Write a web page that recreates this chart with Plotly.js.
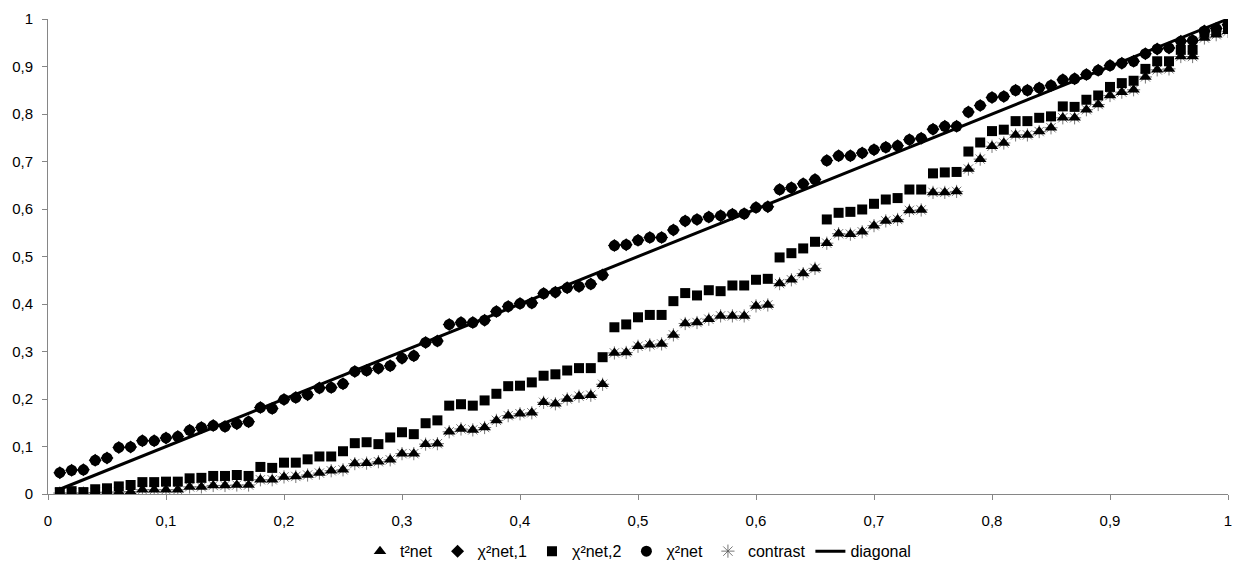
<!DOCTYPE html>
<html>
<head>
<meta charset="utf-8">
<script src="https://cdn.plot.ly/plotly-3.0.1.min.js"></script>
<style>
  html, body { margin: 0; padding: 0; background: #ffffff; }
  #chart { width: 1254px; height: 576px; }
</style>
</head>
<body>
<div id="chart"></div>
<script>
// x positions (quantiles)
const xVals = [0.01,0.02,0.03,0.04,0.05,0.06,0.07,0.08,0.09,0.10,
  0.11,0.12,0.13,0.14,0.15,0.16,0.17,0.18,0.19,0.20,
  0.21,0.22,0.23,0.24,0.25,0.26,0.27,0.28,0.29,0.30,
  0.31,0.32,0.33,0.34,0.35,0.36,0.37,0.38,0.39,0.40,
  0.41,0.42,0.43,0.44,0.45,0.46,0.47,0.48,0.49,0.50,
  0.51,0.52,0.53,0.54,0.55,0.56,0.57,0.58,0.59,0.60,
  0.61,0.62,0.63,0.64,0.65,0.66,0.67,0.68,0.69,0.70,
  0.71,0.72,0.73,0.74,0.75,0.76,0.77,0.78,0.79,0.80,
  0.81,0.82,0.83,0.84,0.85,0.86,0.87,0.88,0.89,0.90,
  0.91,0.92,0.93,0.94,0.95,0.96,0.97,0.98,0.99,1.00];

// t²net (triangles)
const t2net = [0.002,0.002,0.002,0.003,0.004,0.004,0.005,0.009,0.009,0.009,
  0.009,0.015,0.015,0.018,0.018,0.019,0.019,0.030,0.030,0.036,
  0.037,0.040,0.044,0.049,0.051,0.064,0.065,0.068,0.072,0.085,
  0.085,0.105,0.106,0.131,0.137,0.135,0.140,0.155,0.165,0.169,
  0.171,0.193,0.190,0.200,0.206,0.208,0.231,0.297,0.298,0.311,
  0.314,0.316,0.335,0.359,0.361,0.368,0.375,0.375,0.375,0.396,
  0.398,0.443,0.451,0.464,0.475,0.528,0.548,0.547,0.552,0.565,
  0.575,0.578,0.597,0.598,0.635,0.635,0.637,0.684,0.705,0.732,
  0.739,0.756,0.756,0.763,0.771,0.792,0.792,0.809,0.820,0.839,
  0.846,0.851,0.878,0.893,0.895,0.921,0.921,0.960,0.967,0.974];

// χ²net,1 (diamonds)
const chi2net1 = [0.045,0.050,0.051,0.071,0.076,0.098,0.099,0.112,0.112,0.118,
  0.121,0.134,0.140,0.144,0.142,0.148,0.152,0.182,0.180,0.199,
  0.203,0.209,0.223,0.224,0.232,0.258,0.260,0.265,0.270,0.286,
  0.291,0.319,0.322,0.357,0.361,0.361,0.366,0.384,0.395,0.401,
  0.402,0.422,0.425,0.434,0.437,0.442,0.461,0.523,0.525,0.534,
  0.540,0.540,0.556,0.575,0.578,0.583,0.586,0.589,0.590,0.603,
  0.605,0.641,0.645,0.653,0.662,0.702,0.712,0.712,0.718,0.725,
  0.730,0.733,0.746,0.749,0.768,0.774,0.774,0.804,0.818,0.835,
  0.837,0.850,0.850,0.855,0.860,0.872,0.874,0.883,0.892,0.902,
  0.907,0.911,0.927,0.937,0.939,0.953,0.955,0.975,0.980,0.988];

// χ²net,2 (squares)
const chi2net2 = [0.004,0.006,0.004,0.010,0.012,0.016,0.019,0.025,0.025,0.026,
  0.026,0.033,0.034,0.038,0.038,0.040,0.038,0.057,0.055,0.066,
  0.066,0.073,0.079,0.079,0.090,0.107,0.109,0.105,0.119,0.130,
  0.126,0.149,0.155,0.186,0.189,0.186,0.197,0.211,0.227,0.228,
  0.235,0.249,0.252,0.260,0.265,0.265,0.288,0.351,0.357,0.372,
  0.377,0.377,0.406,0.423,0.418,0.429,0.427,0.439,0.439,0.451,
  0.453,0.498,0.507,0.517,0.531,0.578,0.592,0.594,0.599,0.611,
  0.620,0.623,0.641,0.641,0.675,0.677,0.678,0.721,0.740,0.764,
  0.767,0.785,0.785,0.792,0.795,0.816,0.815,0.830,0.839,0.857,
  0.865,0.870,0.895,0.911,0.911,0.935,0.935,0.971,0.974,0.979];

// χ²net (circles)
const chi2net = [0.045,0.050,0.051,0.071,0.076,0.098,0.099,0.112,0.112,0.118,
  0.121,0.134,0.140,0.144,0.142,0.148,0.152,0.182,0.180,0.199,
  0.203,0.209,0.223,0.224,0.232,0.258,0.260,0.265,0.270,0.286,
  0.291,0.319,0.322,0.357,0.361,0.361,0.366,0.384,0.395,0.401,
  0.402,0.422,0.425,0.434,0.437,0.442,0.461,0.523,0.525,0.534,
  0.540,0.540,0.556,0.575,0.578,0.583,0.586,0.589,0.590,0.603,
  0.605,0.641,0.645,0.653,0.662,0.702,0.712,0.712,0.718,0.725,
  0.730,0.733,0.746,0.749,0.768,0.774,0.774,0.804,0.818,0.835,
  0.837,0.850,0.850,0.855,0.860,0.872,0.874,0.883,0.892,0.902,
  0.907,0.911,0.927,0.937,0.939,0.953,0.955,0.975,0.980,0.988];

// contrast (asterisks)
const contrast = [0.002,0.002,0.002,0.003,0.004,0.004,0.005,0.009,0.009,0.009,
  0.009,0.015,0.015,0.018,0.018,0.019,0.019,0.030,0.030,0.036,
  0.037,0.040,0.044,0.049,0.051,0.064,0.065,0.068,0.072,0.085,
  0.085,0.105,0.106,0.131,0.137,0.135,0.140,0.155,0.165,0.169,
  0.171,0.193,0.190,0.200,0.206,0.208,0.231,0.297,0.298,0.311,
  0.314,0.316,0.335,0.359,0.361,0.368,0.375,0.375,0.375,0.396,
  0.398,0.443,0.451,0.464,0.475,0.528,0.548,0.547,0.552,0.565,
  0.575,0.578,0.597,0.598,0.635,0.635,0.637,0.684,0.705,0.732,
  0.739,0.756,0.756,0.763,0.771,0.792,0.792,0.809,0.820,0.839,
  0.846,0.851,0.878,0.893,0.895,0.921,0.921,0.960,0.967,0.974];

// diagonal reference line endpoints
const diagX = [0.01, 1.00];
const diagY = [0.01, 1.00];

const seriesNames = ['t²net', 'χ²net,1', 'χ²net,2', 'χ²net', 'contrast', 'diagonal'];
const tickVals = [0,0.1,0.2,0.3,0.4,0.5,0.6,0.7,0.8,0.9,1];
const tickText = ['0','0,1','0,2','0,3','0,4','0,5','0,6','0,7','0,8','0,9','1'];

const black = '#000000';
// drawing order: contrast asterisks underneath, triangles over them; legend order kept via legendrank
const traces = [
  {x: xVals, y: contrast, name: seriesNames[4], mode: 'markers', type: 'scatter', legendrank: 5,
   marker: {symbol: 'asterisk-open', size: 11, color: '#555555', line: {color: '#555555', width: 0.8}}},
  {x: xVals, y: t2net, name: seriesNames[0], mode: 'markers', type: 'scatter', legendrank: 1,
   marker: {symbol: 'triangle-up', size: 11, color: black}},
  {x: xVals, y: chi2net1, name: seriesNames[1], mode: 'markers', type: 'scatter', legendrank: 2,
   marker: {symbol: 'diamond', size: 10, color: black}},
  {x: xVals, y: chi2net2, name: seriesNames[2], mode: 'markers', type: 'scatter', legendrank: 3,
   marker: {symbol: 'square', size: 10, color: black}},
  {x: xVals, y: chi2net, name: seriesNames[3], mode: 'markers', type: 'scatter', legendrank: 4,
   marker: {symbol: 'circle', size: 11, color: black}},
  {x: diagX, y: diagY, name: seriesNames[5], mode: 'lines', type: 'scatter', legendrank: 6,
   line: {color: black, width: 3}}
];

const axisCommon = {
  range: [0, 1],
  tickvals: tickVals,
  ticktext: tickText,
  showgrid: false,
  zeroline: false,
  showline: true,
  linecolor: '#868686',
  linewidth: 1,
  ticks: 'outside',
  ticklen: 5,
  tickcolor: '#868686',
  automargin: false,
  tickfont: {family: 'Liberation Sans, Arial, sans-serif', size: 15, color: '#000000'}
};

const layout = {
  width: 1254,
  height: 576,
  paper_bgcolor: '#ffffff',
  plot_bgcolor: '#ffffff',
  margin: {l: 48, r: 26, t: 19, b: 82, autoexpand: false},
  separators: ', ',
  xaxis: Object.assign({}, axisCommon, {ticklabelstandoff: 8}),
  yaxis: Object.assign({}, axisCommon, {ticklabelstandoff: 6}),
  showlegend: true,
  legend: {
    orientation: 'h',
    traceorder: 'normal',
    x: 0.5, xanchor: 'center',
    yref: 'container',
    y: 0.043, yanchor: 'middle',
    font: {family: 'Liberation Sans, Arial, sans-serif', size: 16, color: '#000000'},
    itemwidth: 30,
    tracegroupgap: 0,
    bgcolor: 'rgba(0,0,0,0)'
  }
};

Plotly.newPlot('chart', traces, layout, {displayModeBar: false, staticPlot: true});
</script>
</body>
</html>
